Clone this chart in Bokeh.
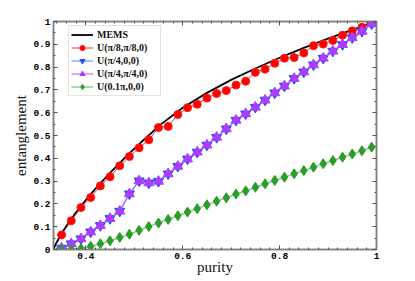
import numpy as np
from bokeh.plotting import figure
from bokeh.models import (ColumnDataSource, FixedTicker, LinearAxis, Range1d,
                          Legend, LegendItem)
from bokeh.embed import file_html
from bokeh.resources import INLINE

# ---------------- data ----------------
purity = [0.35, 0.37, 0.39, 0.41, 0.43, 0.45, 0.47, 0.49, 0.51, 0.53, 0.55,
          0.57, 0.59, 0.61, 0.63, 0.65, 0.67, 0.69, 0.71, 0.73, 0.75, 0.77,
          0.79, 0.81, 0.83, 0.85, 0.87, 0.89, 0.91, 0.93, 0.95, 0.97, 0.99]

u_pi8_pi8 = [0.064, 0.126, 0.184, 0.228, 0.279, 0.319, 0.367, 0.408, 0.446,
             0.481, 0.535, 0.540, 0.592, 0.622, 0.637, 0.664, 0.684, 0.697,
             0.721, 0.738, 0.777, 0.791, 0.817, 0.839, 0.842, 0.862, 0.894,
             0.901, 0.917, 0.940, 0.959, 0.975, 0.992]

u_pi4_0 = [0.006, 0.025, 0.047, 0.077, 0.105, 0.136, 0.168, 0.244, 0.301,
           0.292, 0.299, 0.332, 0.365, 0.397, 0.427, 0.458, 0.492, 0.529,
           0.567, 0.595, 0.624, 0.655, 0.687, 0.717, 0.750, 0.779, 0.810,
           0.839, 0.870, 0.899, 0.929, 0.957, 0.990]

u_pi4_pi4 = [0.006, 0.025, 0.047, 0.077, 0.105, 0.136, 0.168, 0.244, 0.301,
             0.292, 0.299, 0.332, 0.365, 0.397, 0.427, 0.458, 0.492, 0.529,
             0.567, 0.595, 0.624, 0.655, 0.687, 0.717, 0.750, 0.779, 0.810,
             0.839, 0.870, 0.899, 0.929, 0.957, 0.990]

u_01pi = [0.0, 0.0, 0.004, 0.014, 0.025, 0.038, 0.053, 0.067, 0.084, 0.101,
          0.116, 0.132, 0.148, 0.164, 0.179, 0.196, 0.212, 0.227, 0.243,
          0.257, 0.273, 0.288, 0.303, 0.317, 0.332, 0.346, 0.361, 0.376,
          0.390, 0.405, 0.419, 0.433, 0.449]

mems_purity = [0.3333, 0.335, 0.337, 0.34, 0.35, 0.36, 0.38, 0.40, 0.42, 0.45,
               0.48, 0.50, 0.52, 0.5556, 0.60, 0.65, 0.70, 0.75, 0.80, 0.85,
               0.90, 0.95, 1.0]
mems_ent = [0.0, 0.0097, 0.0193, 0.032, 0.070, 0.103, 0.163, 0.217, 0.267,
            0.336, 0.401, 0.442, 0.482, 0.550, 0.622, 0.687, 0.744, 0.794,
            0.841, 0.884, 0.925, 0.963, 1.0]

x_ticks = [0.4, 0.6, 0.8, 1.0]
x_tick_labels = ["0.4", "0.6", "0.8", "1"]
y_ticks = [0.0, 0.1, 0.2, 0.3, 0.4, 0.5, 0.6, 0.7, 0.8, 0.9, 1.0]
y_tick_labels = ["0", "0.1", "0.2", "0.3", "0.4", "0.5", "0.6", "0.7", "0.8",
                 "0.9", "1"]

series_labels = ["MEMS", "U(\u03c0/8,\u03c0/8,0)", "U(\u03c0/4,0,0)",
                 "U(\u03c0/4,\u03c0/4,0)", "U(0.1\u03c0,0,0)"]

# ---------------- figure ----------------
x_minor = list(np.round(np.arange(0.34, 1.0001, 0.02), 4))
y_minor = list(np.round(np.arange(0.0, 1.0001, 0.05), 4))

p = figure(frame_width=323, frame_height=228,
           x_range=Range1d(1 / 3, 1), y_range=Range1d(0, 1),
           output_backend="svg", toolbar_location=None,
           min_border_left=53, min_border_right=31,
           min_border_top=21, min_border_bottom=31)
p.xgrid.visible = False
p.ygrid.visible = False
p.outline_line_color = "#808080"
p.outline_line_width = 1.5
p.background_fill_color = "white"
p.border_fill_color = "white"

bottom_axis = p.below[0]
left_axis = p.left[0]

xt = FixedTicker(ticks=x_ticks, minor_ticks=x_minor)
yt = FixedTicker(ticks=y_ticks, minor_ticks=y_minor)

top_axis = LinearAxis(ticker=xt)
right_axis = LinearAxis(ticker=yt)
p.add_layout(top_axis, "above")
p.add_layout(right_axis, "right")

bottom_axis.ticker = xt
left_axis.ticker = yt
bottom_axis.major_label_overrides = dict(zip(x_ticks, x_tick_labels))
left_axis.major_label_overrides = dict(zip(y_ticks, y_tick_labels))
top_axis.major_label_overrides = {t: "" for t in x_ticks}
right_axis.major_label_overrides = {t: "" for t in y_ticks}

for ax in [bottom_axis, left_axis, top_axis, right_axis]:
    ax.axis_line_color = "#808080"
    ax.axis_line_width = 1.5
    ax.major_tick_in = 4
    ax.major_tick_out = 0
    ax.minor_tick_in = 2
    ax.minor_tick_out = 0
    ax.major_tick_line_color = "#555555"
    ax.minor_tick_line_color = "#555555"
    ax.major_label_text_font = "Liberation Mono"
    ax.major_label_text_font_style = "bold"
    ax.major_label_text_font_size = "9.5px"
    ax.major_label_text_color = "#000000"
    ax.major_label_standoff = 3

top_axis.major_label_text_font_size = "1px"
right_axis.major_label_text_font_size = "1px"
top_axis.major_label_standoff = 0
right_axis.major_label_standoff = 0

bottom_axis.axis_label = "purity"
left_axis.axis_label = "entanglement"
for ax in [bottom_axis, left_axis]:
    ax.axis_label_text_font = "Liberation Serif"
    ax.axis_label_text_font_style = "normal"
    ax.axis_label_text_font_size = "15px"
    ax.axis_label_text_color = "#111111"
bottom_axis.axis_label_standoff = -3
left_axis.axis_label_standoff = 1

src = ColumnDataSource(dict(purity=purity, red=u_pi8_pi8, blue=u_pi4_0,
                            purple=u_pi4_pi4, green=u_01pi))
msrc = ColumnDataSource(dict(x=mems_purity, y=mems_ent))

r_mems = p.line("x", "y", source=msrc, line_color="black", line_width=1.8)

r_red_l = p.line("purity", "red", source=src, line_color="#ff3030", line_width=1)
r_red_m = p.scatter("purity", "red", source=src, marker="circle", size=8,
                    fill_color="#ff0000", line_color="#ff1a1a")

r_blue_l = p.line("purity", "blue", source=src, line_color="#8ea8ff", line_width=1.5)
r_blue_m = p.scatter("purity", "blue", source=src, marker="inverted_triangle",
                     size=10, fill_color="#2050ff", line_color="#2050ff")

r_pur_l = p.line("purity", "purple", source=src, line_color="#b050ff", line_width=1)
r_pur_m = p.scatter("purity", "purple", source=src, marker="triangle",
                    size=10, fill_color="#b03cff", line_color="#b03cff")

r_grn_l = p.line("purity", "green", source=src, line_color="#6cc36c", line_width=1.2)
r_grn_m = p.scatter("purity", "green", source=src, marker="diamond",
                    size=10, fill_color="#2a9d2a", line_color="#2a9d2a")

legend = Legend(items=[
    LegendItem(label=series_labels[0], renderers=[r_mems]),
    LegendItem(label=series_labels[1], renderers=[r_red_l, r_red_m]),
    LegendItem(label=series_labels[2], renderers=[r_blue_l, r_blue_m]),
    LegendItem(label=series_labels[3], renderers=[r_pur_l, r_pur_m]),
    LegendItem(label=series_labels[4], renderers=[r_grn_l, r_grn_m]),
], location=(15, 153))
legend.label_text_font = "Liberation Serif"
legend.label_text_font_style = "bold"
legend.label_text_font_size = "10px"
legend.label_text_color = "#111111"
legend.glyph_width = 22
legend.glyph_height = 13
legend.label_height = 13
legend.label_width = 61
legend.label_standoff = 4
legend.spacing = 0
legend.padding = 2
legend.margin = 0
legend.border_line_color = "#c8c8c8"
legend.border_line_width = 1
legend.background_fill_color = "white"
legend.background_fill_alpha = 1
p.add_layout(legend)

open("out.html", "w").write(file_html(p, INLINE))
